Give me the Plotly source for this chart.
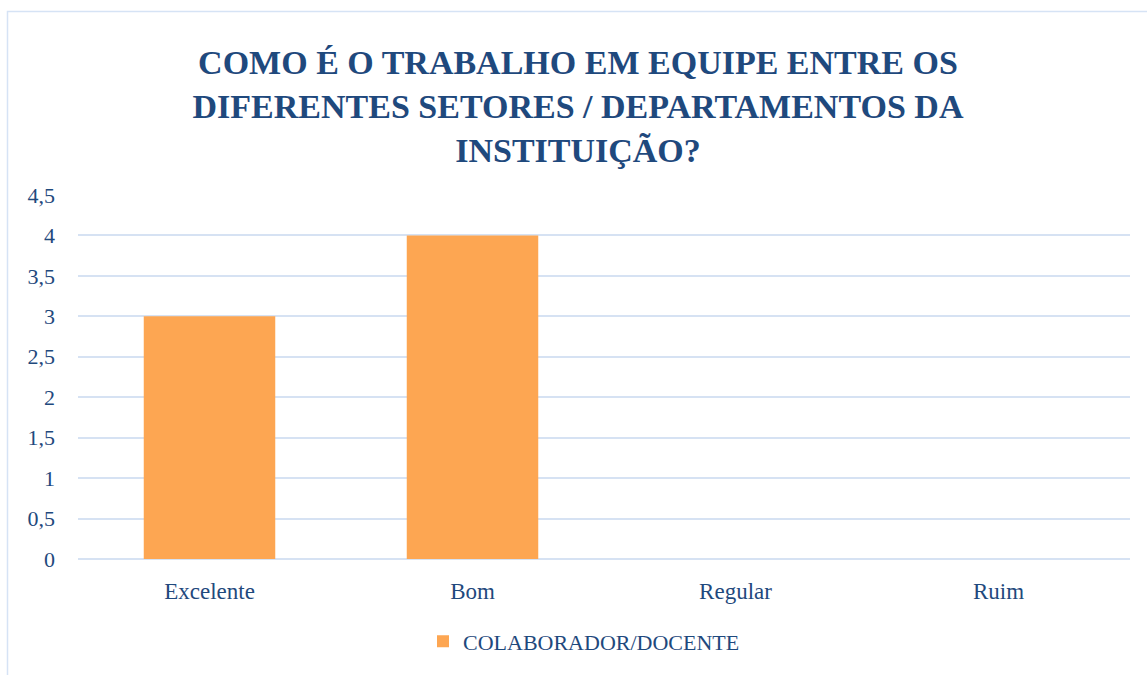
import plotly.graph_objects as go

# Survey results: teamwork between sectors / departments
categorias = ["Excelente", "Bom", "Regular", "Ruim"]
respostas = [3, 4, 0, 0]
serie_nome = "COLABORADOR/DOCENTE"
titulo = "COMO É O TRABALHO EM EQUIPE ENTRE OS<br>DIFERENTES SETORES / DEPARTAMENTOS DA<br>INSTITUIÇÃO?"
y_ticks = [0, 0.5, 1, 1.5, 2, 2.5, 3, 3.5, 4, 4.5]
y_tick_text = ["0", "0,5", "1", "1,5", "2", "2,5", "3", "3,5", "4", "4,5"]

NAVY = "#1F497D"
GRID = "#D6E2F3"
FONT = "Liberation Serif"

W, H = 1147, 675
ML, MR, MT, MB = 78, 17, 195, 114
PW, PH = W - ML - MR, H - MT - MB


def px_x(x):
    return (x - ML) / PW


def px_y(y):
    return (H - MB - y) / PH


fig = go.Figure()
fig.add_trace(go.Bar(
    x=categorias,
    y=respostas,
    name=serie_nome,
    width=0.5,
    marker=dict(color="#FDA652", line=dict(width=0)),
    showlegend=True,
))

fig.update_layout(
    width=W,
    height=H,
    margin=dict(l=ML, r=MR, t=MT, b=MB),
    paper_bgcolor="white",
    plot_bgcolor="white",
    font=dict(family=FONT, color=NAVY, size=22),
    title=dict(
        text=titulo,
        x=578 / W,
        xanchor="center",
        y=1 - 74 / H,
        yanchor="middle",
        font=dict(family=FONT, size=34, color=NAVY, weight="bold"),
    ),
    showlegend=True,
    legend=dict(
        orientation="h",
        x=px_x(584),
        xanchor="center",
        y=px_y(644),
        yanchor="middle",
        font=dict(family=FONT, size=22, color=NAVY),
        itemwidth=30,
    ),
    bargap=0.5,
)

fig.update_xaxes(
    showgrid=False,
    showline=False,
    zeroline=False,
    ticks="",
    tickfont=dict(family=FONT, size=23, color=NAVY),
    ticklabelstandoff=16,
)
fig.update_yaxes(
    range=[0, 4.5],
    tickvals=y_ticks,
    ticktext=y_tick_text,
    showgrid=True,
    gridcolor=GRID,
    gridwidth=2,
    zeroline=True,
    zerolinecolor=GRID,
    zerolinewidth=2,
    showline=False,
    ticks="",
    tickfont=dict(family=FONT, size=22, color=NAVY),
    ticklabelstandoff=22,
)

# Outer chart frame (light blue border)
fig.add_shape(
    type="rect",
    xref="paper", yref="paper",
    x0=px_x(7.5), x1=px_x(1160),
    y0=px_y(690), y1=px_y(10.5),
    line=dict(color="#D6E3F5", width=1.5),
    fillcolor="rgba(0,0,0,0)",
    layer="below",
)

fig.write_html("out.html")
